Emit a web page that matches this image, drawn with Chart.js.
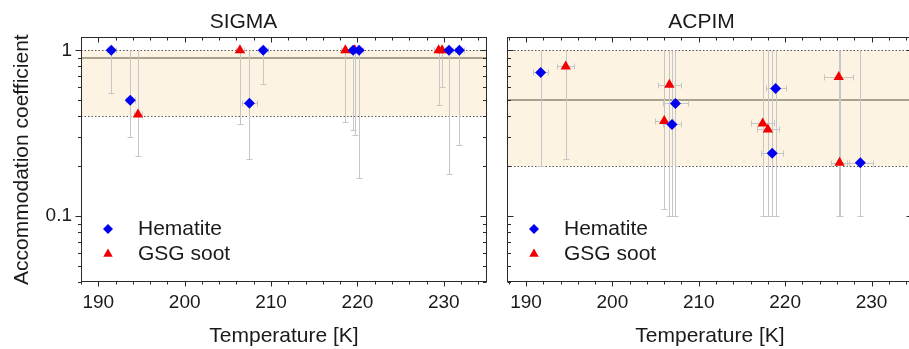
<!DOCTYPE html>
<html><head><meta charset="utf-8">
<script src="https://cdn.jsdelivr.net/npm/chart.js@4"></script>
<style>
html,body{margin:0;padding:0;background:#fff;overflow:hidden;width:909px;height:349px;position:relative}
#wrapL{position:absolute;left:0;top:0;width:500px;height:349px}
#wrapR{position:absolute;left:490px;top:0;width:430px;height:349px}
</style></head><body>
<div id="wrapL"><canvas id="cL"></canvas></div>
<div id="wrapR"><canvas id="cR"></canvas></div>
<script>
// ---- data ----
const panelTitles = ['SIGMA', 'ACPIM'];
const seriesNames = ['Hematite', 'GSG soot'];
const xTickLabels = [190, 200, 210, 220, 230];
const yTickLabels = [0.1, 1];
const xAxisTitle = 'Temperature [K]';
const yAxisTitle = 'Accommodation coefficient';

// SIGMA panel
const sigmaHemT    = [191.5, 193.7, 207.5, 209.1, 219.5, 220.2, 230.6, 231.8];
const sigmaHemVal  = [1.0, 0.50, 0.48, 1.0, 1.0, 1.0, 1.0, 1.0];
const sigmaHemLo   = [0.55, 0.30, 0.22, 0.63, 0.33, 0.17, 0.18, 0.27];
const sigmaHemHi   = [1.0, 1.0, 1.0, 1.0, 1.0, 1.0, 1.0, 1.0];
const sigmaHemTErr = [0.5, 0.5, 0.9, 0.5, 0.5, 0.5, 0.5, 0.5];
const sigmaSootT    = [194.6, 206.4, 218.6, 219.7, 229.4, 229.8];
const sigmaSootVal  = [0.41, 1.0, 1.0, 1.0, 1.0, 1.0];
const sigmaSootLo   = [0.23, 0.36, 0.37, 0.31, 0.47, 0.60];
const sigmaSootHi   = [1.0, 1.0, 1.0, 1.0, 1.0, 1.0];
const sigmaSootTErr = [0.5, 0.5, 0.5, 0.5, 0.5, 0.5];
const sigmaBand = [0.4, 1.0];
const sigmaBest = 0.9;

// ACPIM panel
const acpimHemT    = [191.7, 207.3, 206.9, 218.9, 218.5, 228.7];
const acpimHemVal  = [0.735, 0.478, 0.357, 0.589, 0.239, 0.210];
const acpimHemLo   = [0.20, 0.10, 0.10, 0.10, 0.10, 0.10];
const acpimHemHi   = [1.0, 1.0, 1.0, 1.0, 1.0, 1.0];
const acpimHemTErr = [0.87, 1.4, 1.0, 1.15, 1.25, 1.5];
const acpimSootT    = [194.6, 206.6, 206.0, 217.4, 218.0, 226.2, 226.3];
const acpimSootVal  = [0.80, 0.62, 0.374, 0.362, 0.333, 0.69, 0.21];
const acpimSootLo   = [0.22, 0.10, 0.11, 0.10, 0.10, 0.10, 0.10];
const acpimSootHi   = [1.0, 1.0, 1.0, 1.0, 1.0, 1.0, 1.0];
const acpimSootTErr = [1.0, 1.35, 1.05, 1.3, 1.3, 1.7, 1.05];
const acpimBand = [0.2, 1.0];
const acpimBest = 0.5;

// ---- rendering ----
const FONT = '"Liberation Sans", Arial, Helvetica, sans-serif';
const TXT = '#1a1a1a';
Chart.defaults.font.family = FONT;
Chart.defaults.color = TXT;

const BLUE = '#0000f0', RED = '#f00000';

const panelPlugin = {
  id: 'panel',
  beforeDatasetsDraw(chart, args, opt) {
    const {ctx, chartArea: a, scales: {x, y}} = chart;
    ctx.save();
    ctx.beginPath(); ctx.rect(a.left, a.top, a.right - a.left, a.bottom - a.top); ctx.clip();
    const yTop = y.getPixelForValue(opt.band[1]), yBot = y.getPixelForValue(opt.band[0]);
    ctx.fillStyle = '#fdf3e2';
    ctx.fillRect(a.left, yTop, a.right - a.left, yBot - yTop);
    ctx.strokeStyle = '#555'; ctx.lineWidth = 1; ctx.setLineDash([1.5, 2]);
    for (const yy of [yTop, yBot]) {
      const py = Math.round(yy) + 0.5;
      ctx.beginPath(); ctx.moveTo(a.left, py); ctx.lineTo(a.right, py); ctx.stroke();
    }
    ctx.setLineDash([]);
    ctx.strokeStyle = '#a8a28e'; ctx.lineWidth = 2;
    const yb = Math.round(y.getPixelForValue(opt.best));
    ctx.beginPath(); ctx.moveTo(a.left, yb); ctx.lineTo(a.right, yb); ctx.stroke();
    // error bars
    ctx.strokeStyle = '#c6c6c6'; ctx.lineWidth = 1;
    chart.data.datasets.forEach(ds => {
      ds.data.forEach((pt, j) => {
        const px = Math.round(x.getPixelForValue(pt.x)) + 0.5;
        const py = Math.round(y.getPixelForValue(pt.y)) + 0.5;
        const pLo = Math.round(y.getPixelForValue(ds.errLo[j])) + 0.5;
        const pHi = Math.round(y.getPixelForValue(ds.errHi[j])) + 0.5;
        ctx.beginPath();
        ctx.moveTo(px, pHi); ctx.lineTo(px, pLo);
        ctx.moveTo(px - 3, pLo); ctx.lineTo(px + 3, pLo);
        const xl = Math.round(x.getPixelForValue(pt.x - ds.errT[j])) + 0.5;
        const xr = Math.round(x.getPixelForValue(pt.x + ds.errT[j])) + 0.5;
        ctx.moveTo(xl, py); ctx.lineTo(xr, py);
        ctx.moveTo(xl, py - 3); ctx.lineTo(xl, py + 3);
        ctx.moveTo(xr, py - 3); ctx.lineTo(xr, py + 3);
        ctx.stroke();
      });
    });
    ctx.restore();
  },
  afterDraw(chart, args, opt) {
    const {ctx, chartArea: a, scales: {x, y}} = chart;
    ctx.save();
    ctx.strokeStyle = '#2a2a2a'; ctx.lineWidth = 1;
    const L = Math.round(a.left) + 0.5, R = Math.round(a.right) - 0.5;
    const T = Math.round(a.top) + 0.5, B = Math.round(a.bottom) - 0.5;
    ctx.strokeRect(L, T, R - L, B - T);
    ctx.beginPath();
    // x ticks
    for (let v = 188; v <= 235; v += 2) {
      if (v < x.min || v > x.max) continue;
      const major = v % 10 === 0;
      const px = Math.round(x.getPixelForValue(v)) + 0.5;
      const len = major ? 5 : 3;
      ctx.moveTo(px, B); ctx.lineTo(px, B + len);
      ctx.moveTo(px, T); ctx.lineTo(px, T + len);
    }
    // y ticks
    const yv = [];
    for (const d of [0.01, 0.1, 1]) for (let k = 1; k <= 9; k++) yv.push([k * d, k === 1]);
    yv.forEach(([v, major]) => {
      if (v < y.min || v > y.max) return;
      const py = Math.round(y.getPixelForValue(v)) + 0.5;
      const len = major ? 6 : 3.5;
      if (opt.leftOut) { ctx.moveTo(L, py); ctx.lineTo(L - len, py); }
      else { ctx.moveTo(L, py); ctx.lineTo(L + len, py); }
      ctx.moveTo(R, py); ctx.lineTo(R - len, py);
    });
    ctx.stroke();
    // legend
    const lx = a.left + 27;
    const rows = [[229, 'rectRot', 5, BLUE, seriesNames[0]], [254, 'triangle', 5.5, RED, seriesNames[1]]];
    rows.forEach(([ly, style, r, col, label]) => {
      ctx.fillStyle = col;
      Chart.helpers.drawPoint(ctx, {pointStyle: style, radius: r, borderWidth: 0, rotation: 0}, lx, ly);
      ctx.fillStyle = TXT;
      ctx.font = '21px ' + FONT;
      ctx.textBaseline = 'middle'; ctx.textAlign = 'left';
      ctx.fillText(label, a.left + 57, ly);
    });
    ctx.restore();
  }
};

function makePanel(canvasId, title, hem, soot, band, best, isLeft, xmin, xmax, padRight, yWidth) {
  const mk = (s) => s.T.map((t, i) => ({x: t, y: s.V[i]}));
  return new Chart(document.getElementById(canvasId), {
    type: 'scatter',
    data: {
      datasets: [
        {label: seriesNames[0], data: mk(hem), errLo: hem.Lo, errHi: hem.Hi, errT: hem.E,
         pointStyle: 'rectRot', radius: 5.5, borderWidth: 0, backgroundColor: BLUE, borderColor: BLUE},
        {label: seriesNames[1], data: mk(soot), errLo: soot.Lo, errHi: soot.Hi, errT: soot.E,
         pointStyle: 'triangle', radius: 6, borderWidth: 0, backgroundColor: RED, borderColor: RED}
      ]
    },
    options: {
      responsive: true, maintainAspectRatio: false, animation: false,
      layout: {padding: {top: 0, right: padRight, bottom: 0, left: 0}},
      plugins: {
        legend: {display: false}, tooltip: {enabled: false},
        title: {display: true, text: title, color: TXT, font: {size: 21, weight: 'normal'}, padding: {top: 10, bottom: 2}},
        panel: {band, best, leftOut: isLeft}
      },
      scales: {
        x: {
          type: 'linear', min: xmin, max: xmax,
          grid: {display: false, drawTicks: false}, border: {display: false},
          afterBuildTicks: s => { s.ticks = xTickLabels.map(v => ({value: v})); },
          afterFit: s => { s.height = 67; },
          ticks: {font: {size: 19}, color: TXT, padding: 9, maxRotation: 0, callback: v => String(v)},
          title: {display: true, text: xAxisTitle, color: TXT, font: {size: 21}, padding: {top: 0, bottom: 0}}
        },
        y: {
          type: 'logarithmic', min: 0.04, max: 1.2,
          grid: {display: false, drawTicks: false}, border: {display: false},
          afterBuildTicks: s => { s.ticks = yTickLabels.map(v => ({value: v})); },
          afterFit: s => { s.width = yWidth; },
          ticks: {display: isLeft, font: {size: 19}, color: TXT, padding: 9, callback: v => String(v)},
          title: {display: isLeft, text: yAxisTitle, color: TXT, font: {size: 21}, padding: {top: 10, bottom: 0}}
        }
      }
    },
    plugins: [panelPlugin]
  });
}

makePanel('cL', panelTitles[0],
  {T: sigmaHemT, V: sigmaHemVal, Lo: sigmaHemLo, Hi: sigmaHemHi, E: sigmaHemTErr},
  {T: sigmaSootT, V: sigmaSootVal, Lo: sigmaSootLo, Hi: sigmaSootHi, E: sigmaSootTErr},
  sigmaBand, sigmaBest, true, 188, 235, 13, 81);
makePanel('cR', panelTitles[1],
  {T: acpimHemT, V: acpimHemVal, Lo: acpimHemLo, Hi: acpimHemHi, E: acpimHemTErr},
  {T: acpimSootT, V: acpimSootVal, Lo: acpimSootLo, Hi: acpimSootHi, E: acpimSootTErr},
  acpimBand, acpimBest, false, 187.8, 234.8, 7, 17);
</script>
</body></html>
